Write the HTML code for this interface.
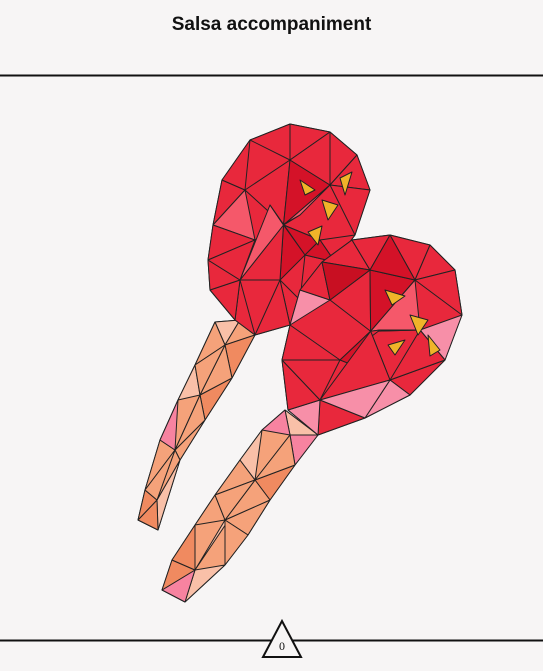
<!DOCTYPE html>
<html><head><meta charset="utf-8"><style>
html,body{margin:0;padding:0;background:#f7f5f5;}
body{width:543px;height:671px;position:relative;overflow:hidden;font-family:"Liberation Serif",serif;}
#title{position:absolute;top:14px;left:0;width:543px;text-align:center;font-weight:bold;font-size:19px;color:#111;font-family:"Liberation Sans",sans-serif;}
</style></head><body>
<div id="title">Salsa accompaniment</div>
<svg id="svg" width="543" height="671" style="position:absolute;left:0;top:0">
<line x1="0" y1="75.5" x2="543" y2="75.5" stroke="#111" stroke-width="2"/>
<line x1="0" y1="640.5" x2="543" y2="640.5" stroke="#111" stroke-width="2"/>
<g id="art"></g>
<polygon points="282,621 263,657 301,657" fill="#f7f5f5" stroke="#111" stroke-width="2"/>
<text x="282" y="650" text-anchor="middle" font-size="12" font-family="Liberation Serif,serif" fill="#111">0</text>
</svg>
<script>
const shapes=[
 {name:'left-handle',base:'#f5a27a',pal:['#f5a27a','#f08a60','#f9c0a8','#f5a27a','#f08a60','#f5a27a','#f783a0'],
  out:[[215,322],[240,320],[255,335],[232,378],[205,420],[180,460],[158,530],[138,520],[145,490],[160,440],[178,400],[195,365]],
  inn:[[225,345],[200,395],[175,450],[157,500]]},
 {name:'right-handle',base:'#f5a27a',pal:['#f5a27a','#f08a60','#f9c0a8','#f5a27a','#f08a60','#f783a0','#f5a27a'],
  out:[[285,410],[318,435],[295,465],[270,500],[248,535],[225,565],[185,602],[162,590],[172,560],[195,525],[215,495],[240,460],[262,430]],
  inn:[[290,435],[255,480],[225,520],[195,570]]},
 {name:'left-head',base:'#e8283c',pal:['#e8283c','#d41228','#f5586a','#e8283c','#f78fa8','#d41228','#e8283c','#f5586a','#d41228'],
  out:[[213,225],[222,180],[250,140],[290,124],[330,132],[357,155],[370,190],[355,235],[335,262],[300,300],[290,325],[255,335],[235,320],[210,290],[208,260]],
  inn:[[245,190],[290,160],[330,185],[300,215],[255,240],[320,240],[280,280],[240,280],[270,205],[305,255]]},
 {name:'right-head',base:'#e8283c',pal:['#e8283c','#d41228','#f5586a','#f78fa8','#e8283c','#d41228','#e8283c','#c80f22','#f5586a'],
  out:[[290,325],[300,290],[322,262],[352,240],[390,235],[430,245],[455,270],[462,315],[445,360],[410,395],[365,418],[318,435],[288,410],[282,360]],
  inn:[[330,300],[370,270],[415,280],[420,330],[380,330],[340,360],[390,380],[320,400]]}
];
const yellows=[
 [[300,180],[315,190],[305,195]],[[340,178],[352,172],[345,195]],[[322,200],[338,205],[328,220]],[[308,232],[322,226],[318,245]],
 [[385,290],[405,296],[392,305]],[[410,315],[428,320],[418,335]],[[428,335],[440,350],[430,356]],[[388,345],[405,340],[395,355]]
];
const art=document.getElementById('art');
const NS='http://www.w3.org/2000/svg';
function poly(pts,fill,name){const p=document.createElementNS(NS,'polygon');p.setAttribute('points',pts.map(q=>q.join(',')).join(' '));p.setAttribute('fill',fill);p.setAttribute('stroke','#222');p.setAttribute('stroke-width','1');p.setAttribute('stroke-linejoin','round');


art.appendChild(p);}
function d2(a,b){return (a[0]-b[0])**2+(a[1]-b[1])**2;}
shapes.forEach(s=>{
 poly(s.out,s.base,s.name);
 let k=0;
 const c=[s.inn.reduce((a,p)=>a+p[0],0)/s.inn.length,s.inn.reduce((a,p)=>a+p[1],0)/s.inn.length];
 for(let i=0;i<s.inn.length-1;i++){poly([s.inn[i],s.inn[i+1],c],s.pal[(k++)%s.pal.length],s.name+'-facet');}
 const n=s.out.length;
 for(let i=0;i<n;i++){
  const a=s.out[i],b=s.out[(i+1)%n],m=[(a[0]+b[0])/2,(a[1]+b[1])/2];
  let best=s.inn[0];s.inn.forEach(p=>{if(d2(p,m)<d2(best,m))best=p;});
  poly([a,b,best],s.pal[(k++*3)%s.pal.length],s.name+'-facet');
  let ba=s.inn[0];s.inn.forEach(p=>{if(d2(p,a)<d2(ba,a))ba=p;});
  if(ba!==best)poly([a,ba,best],s.pal[(k++*7)%s.pal.length],s.name+'-facet');
 }
});
yellows.forEach(t=>poly(t,'#f0b429','seed-highlight'));
</script>
</body></html>
